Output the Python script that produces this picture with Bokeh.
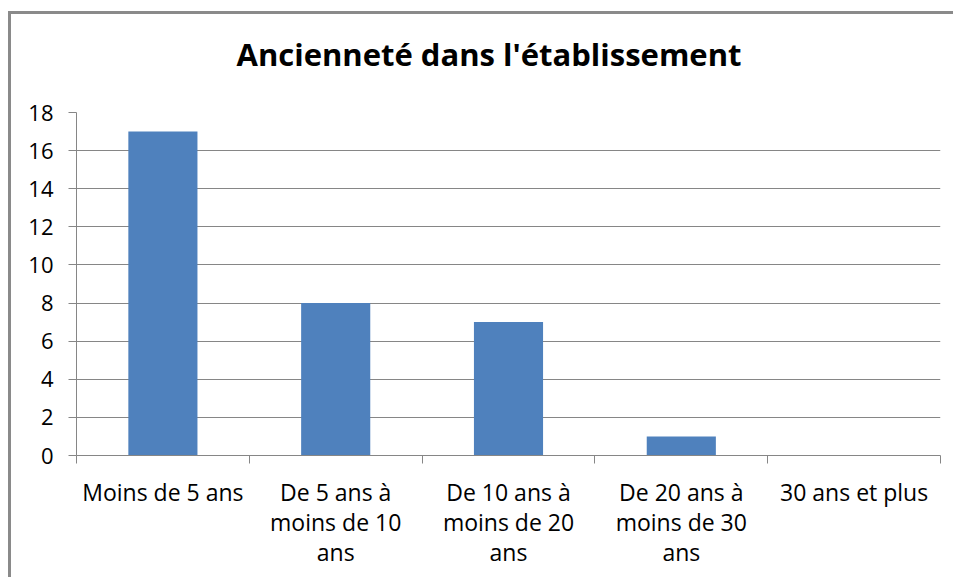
from bokeh.plotting import figure
from bokeh.models import FixedTicker, Range1d, ColumnDataSource
from bokeh.embed import file_html
from bokeh.resources import INLINE

title = "Ancienneté dans l'établissement"
categories = ["Moins de 5 ans", "De 5 ans à\nmoins de 10\nans", "De 10 ans à\nmoins de 20\nans",
              "De 20 ans à\nmoins de 30\nans", "30 ans et plus"]
values = [17, 8, 7, 1, 0]
y_ticks = [0, 2, 4, 6, 8, 10, 12, 14, 16, 18]

n = len(categories)
xs = [i + 0.5 for i in range(n)]
src = ColumnDataSource(dict(x=xs, top=values))

GRAY = "#868686"
FONT = "Open Sans"

p = figure(width=945, height=566, output_backend="svg", toolbar_location=None,
           x_range=Range1d(0, n), y_range=Range1d(0, 18),
           min_border_left=65, min_border_right=16, min_border_top=98, min_border_bottom=125,
           title=title + "\n")
p.styles = {"border-left": "3px solid #8a8a8a", "border-top": "3px solid #8a8a8a",
            "margin-top": "11px", "margin-left": "8px"}

p.vbar(x="x", top="top", width=0.4, source=src, fill_color="#4F81BD", line_color=None)

p.title.align = "left"
p.title.offset = 160
p.title.text_font = FONT
p.title.text_font_size = "31px"
p.title.text_font_style = "bold"
p.title.text_color = "black"
p.title.text_line_height = 0.9
p.title.standoff = 0

p.outline_line_color = None
p.xgrid.grid_line_color = None
p.ygrid.grid_line_color = GRAY
p.ygrid.grid_line_width = 1
p.ygrid.ticker = FixedTicker(ticks=y_ticks)

ya = p.yaxis[0]
ya.ticker = FixedTicker(ticks=y_ticks)
ya.axis_line_color = GRAY
ya.major_tick_line_color = GRAY
ya.major_tick_out = 8
ya.major_tick_in = 0
ya.minor_tick_line_color = None
ya.major_label_text_font = FONT
ya.major_label_text_font_size = "22px"
ya.major_label_text_color = "black"
ya.major_label_standoff = 15

xa = p.xaxis[0]
xa.ticker = FixedTicker(ticks=xs, minor_ticks=list(range(n + 1)))
xa.major_label_overrides = {x: c for x, c in zip(xs, categories)}
xa.axis_line_color = GRAY
xa.major_tick_line_color = None
xa.major_tick_out = 0
xa.major_tick_in = 0
xa.minor_tick_line_color = GRAY
xa.minor_tick_out = 8
xa.minor_tick_in = 0
xa.major_label_text_font = FONT
xa.major_label_text_font_size = "23px"
xa.major_label_text_color = "black"
xa.major_label_text_line_height = 0.95
xa.major_label_standoff = 12
xa.major_label_orientation = "horizontal"

open("out.html", "w").write(file_html(p, INLINE))
